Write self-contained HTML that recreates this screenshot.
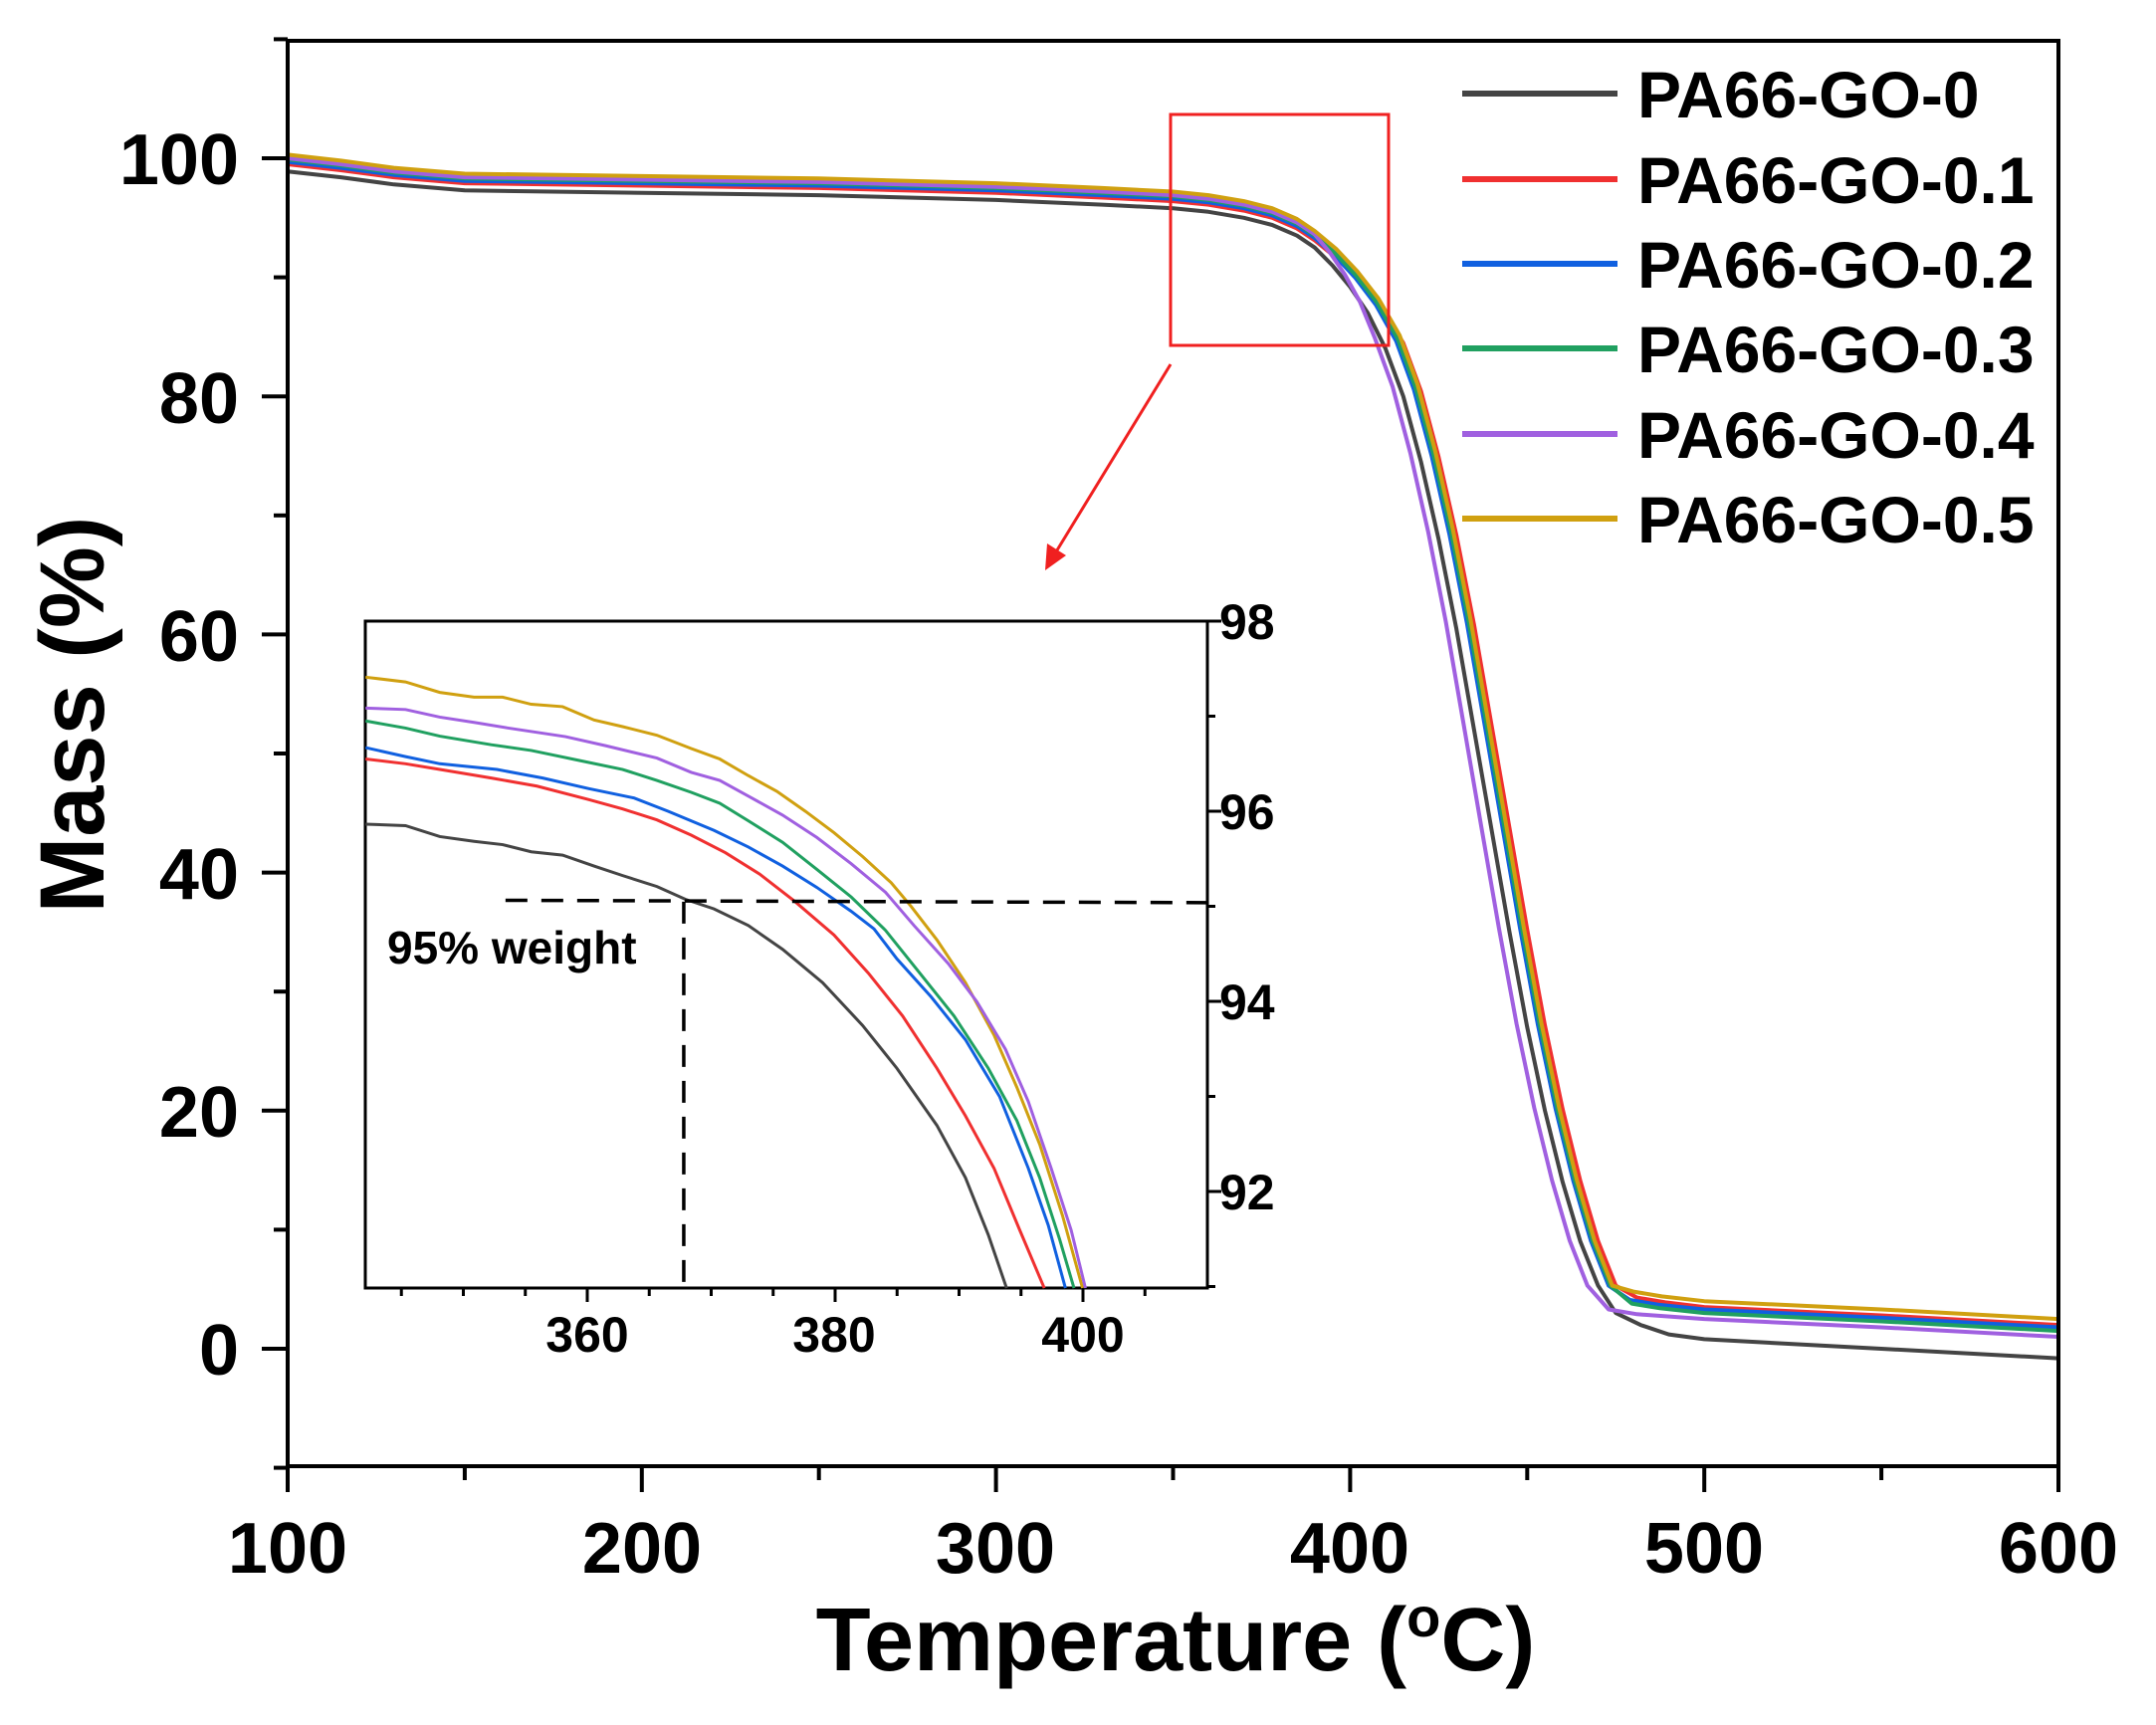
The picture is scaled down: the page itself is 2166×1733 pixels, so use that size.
<!DOCTYPE html>
<html><head><meta charset="utf-8"><style>
html,body{margin:0;padding:0;background:#fff;}
svg{display:block;font-family:"Liberation Sans",Arial,sans-serif;font-weight:bold;}
</style></head><body>
<svg id="s" width="2166" height="1733" viewBox="0 0 2166 1733" xmlns="http://www.w3.org/2000/svg">
<rect width="2166" height="1733" fill="#fff"/>
<g id="main"></g>
<g id="axes" stroke="#000" stroke-width="4" fill="none">
<rect x="289" y="41" width="1779" height="1432"/>
</g>
<g id="ticks" stroke="#000" stroke-width="4"></g>
<g font-size="72" text-anchor="end" fill="#000">
<text x="240" y="185">100</text>
<text x="240" y="425">80</text>
<text x="240" y="664">60</text>
<text x="240" y="903">40</text>
<text x="240" y="1142">20</text>
<text x="240" y="1381">0</text>
</g>
<g font-size="72" text-anchor="middle" fill="#000">
<text x="289" y="1580">100</text>
<text x="645" y="1580">200</text>
<text x="1000" y="1580">300</text>
<text x="1356" y="1580">400</text>
<text x="1712" y="1580">500</text>
<text x="2068" y="1580">600</text>
</g>
<text x="1181" y="1678" font-size="90" text-anchor="middle">Temperature (<tspan font-size="56" dy="-34">o</tspan><tspan dy="34">C)</tspan></text>
<text transform="translate(104,718) rotate(-90)" font-size="92" text-anchor="middle">Mass (%)</text>
<g stroke-width="6">
<line x1="1469" y1="94" x2="1625" y2="94" stroke="#444"/>
<line x1="1469" y1="180" x2="1625" y2="180" stroke="#f03030"/>
<line x1="1469" y1="265" x2="1625" y2="265" stroke="#1060e0"/>
<line x1="1469" y1="350" x2="1625" y2="350" stroke="#20a060"/>
<line x1="1469" y1="436" x2="1625" y2="436" stroke="#a060e0"/>
<line x1="1469" y1="521" x2="1625" y2="521" stroke="#d0a010"/>
</g>
<g font-size="66" fill="#000">
<text x="1645" y="118">PA66-GO-0</text>
<text x="1645" y="204">PA66-GO-0.1</text>
<text x="1645" y="289">PA66-GO-0.2</text>
<text x="1645" y="374">PA66-GO-0.3</text>
<text x="1645" y="460">PA66-GO-0.4</text>
<text x="1645" y="545">PA66-GO-0.5</text>
</g>
<rect x="1176" y="115" width="219" height="232" fill="none" stroke="#f02020" stroke-width="3"/>
<line x1="1176" y1="366" x2="1060" y2="556" stroke="#f02020" stroke-width="3"/>
<polygon points="1050,573 1052,546 1071,558" fill="#f02020"/>
<rect x="367" y="624" width="846" height="670" fill="#fff" stroke="#000" stroke-width="3"/>
<g id="inset" transform="translate(350,600) scale(0.574,0.478)" fill="none"></g>
<g id="iticks" stroke="#000" stroke-width="3"></g>
<g font-size="50" text-anchor="middle" fill="#000">
<text x="590" y="1358">360</text>
<text x="838" y="1358">380</text>
<text x="1088" y="1358">400</text>
</g>
<g font-size="50" fill="#000">
<text x="1225" y="642">98</text>
<text x="1225" y="833">96</text>
<text x="1225" y="1024">94</text>
<text x="1225" y="1215">92</text>
</g>
<text x="389" y="968" font-size="46" fill="#000">95% weight</text>
</svg>
<script>
var NS="http://www.w3.org/2000/svg";
function el(p,t,a){var e=document.createElementNS(NS,t);for(var k in a)e.setAttribute(k,a[k]);p.appendChild(e);return e;}
var X=function(T){return 289+(T-100)*3.558}, Y=function(m){return 159+(100-m)*11.96};
var base=[[100,98.9],[115,98.4],[130,97.8],[150,97.3],[200,97.1],[250,96.9],[300,96.5],[330,96.1],[350,95.8],[360,95.5],[370,95],[378,94.4],[385,93.5],[390,92.5],[395,91],[400,89.2],[405,87],[410,84],[415,80],[420,74.5],[425,68],[430,60.5],[435,52],[440,43.5],[445,35],[450,27],[455,20],[460,14],[465,9],[470,5.3],[475,3]];
var series=[
 ["#444",0,0,-0.8],["#f03030",0.6,5,2.0],["#1060e0",0.8,3,1.8],["#20a060",1.0,3.5,1.5],["#a060e0",1.1,-3,1.0],["#d0a010",1.4,4,2.5]];
var mg=document.getElementById("main");
series.forEach(function(s){
 var pts=[];
 var colored=s[3]>=0;
 base.forEach(function(p){
  var T=p[0],m=p[1];
  if(colored && T>=475) return;
  var w=T<=395?1:(T>=470?0:(470-T)/75);
  m=m+s[1]*w;
  var sh=T<=390?0:(T>=410?s[2]:s[2]*(T-390)/20);
  pts.push(X(T+sh).toFixed(1)+","+Y(m).toFixed(1));
 });
 var tail;
 if(!colored) tail=[[482,2.0],[490,1.2],[500,0.8],[550,0],[600,-0.8]];
 else {var e=s[2]; tail=[[476+e,Math.max(3.2,s[3]+2.3)],[484+e,s[3]+1.9],[500,s[3]+1.5],[550,s[3]+0.8],[600,s[3]]];}
 tail.forEach(function(p){pts.push(X(p[0]).toFixed(1)+","+Y(p[1]).toFixed(1));});
 el(mg,"polyline",{points:pts.join(" "),fill:"none",stroke:s[0],"stroke-width":4,"stroke-linejoin":"round"});
});
var tg=document.getElementById("ticks");
for(var T=100;T<=600;T+=50){var maj=T%100==0;el(tg,"line",{x1:X(T),y1:1473,x2:X(T),y2:1473+(maj?26:14)});}
for(var m=-10;m<=110;m+=10){var maj=m%20==0;el(tg,"line",{x1:289,y1:Y(m),x2:289-(maj?26:14),y2:Y(m)});}
var ig=document.getElementById("inset");
var C={
"#d0a010":[[30,168],[100,178],[160,200],[220,210],[270,210],[320,225],[375,230],[430,258],[480,272],[540,290],[600,318],[650,340],[700,375],[750,408],[800,450],[850,495],[900,545],[950,600],[985,650],[1030,720],[1080,810],[1130,920],[1170,1030],[1210,1150],[1250,1300],[1285,1452]],
"#a060e0":[[30,233],[100,236],[160,252],[220,263],[280,275],[380,293],[450,312],[540,338],[600,368],[650,385],[700,418],[760,458],[820,505],[880,560],[940,620],[990,690],[1050,770],[1100,850],[1150,950],[1190,1060],[1230,1200],[1265,1330],[1290,1452]],
"#20a060":[[30,260],[100,275],[160,292],[250,310],[320,322],[400,342],[480,362],[540,385],[600,410],[650,433],[700,470],[760,515],[820,572],[880,630],[940,700],[1000,790],[1060,880],[1120,990],[1170,1100],[1210,1220],[1245,1350],[1270,1452]],
"#1060e0":[[30,316],[100,335],[160,350],[260,362],[340,380],[420,402],[500,422],[560,450],[640,490],[700,525],[760,565],[820,610],[880,660],[920,697],[960,760],[1020,840],[1080,930],[1140,1050],[1190,1200],[1225,1320],[1255,1452]],
"#f03030":[[30,340],[100,350],[160,362],[250,380],[330,397],[420,425],[480,445],[540,468],[600,500],[660,537],[720,582],[780,638],[850,710],[910,790],[970,880],[1030,990],[1080,1090],[1130,1200],[1175,1330],[1218,1452]],
"#444":[[30,477],[100,480],[160,503],[220,513],[270,520],[320,535],[375,542],[430,565],[480,585],[540,608],[590,635],[640,655],[700,690],[760,740],[830,810],[900,900],[960,990],[1030,1110],[1080,1220],[1120,1340],[1152,1452]]};
for(var c in C){el(ig,"polyline",{points:C[c].map(function(p){return p.join(",")}).join(" "),stroke:c,"stroke-width":3,"vector-effect":"non-scaling-stroke"});}
el(ig,"line",{x1:275,y1:637,x2:1505,y2:642,stroke:"#000","stroke-width":3.5,"stroke-dasharray":"22,14","vector-effect":"non-scaling-stroke"});
el(ig,"line",{x1:587,y1:640,x2:587,y2:1452,stroke:"#000","stroke-width":3.5,"stroke-dasharray":"22,14","vector-effect":"non-scaling-stroke"});
var it=document.getElementById("iticks");
for(var T=345;T<=410;T+=5){var x=590+(T-360)*12.45;if(x<368||x>1212)continue;var maj=T%20==0;el(it,"line",{x1:x,y1:1294,x2:x,y2:1294+(maj?14:8)});}
for(var m=91;m<=98;m+=1){var y=624+(98-m)*95.5;var maj=m%2==0;el(it,"line",{x1:1213,y1:y,x2:1213+(maj?14:8),y2:y});}
</script>
</body></html>
